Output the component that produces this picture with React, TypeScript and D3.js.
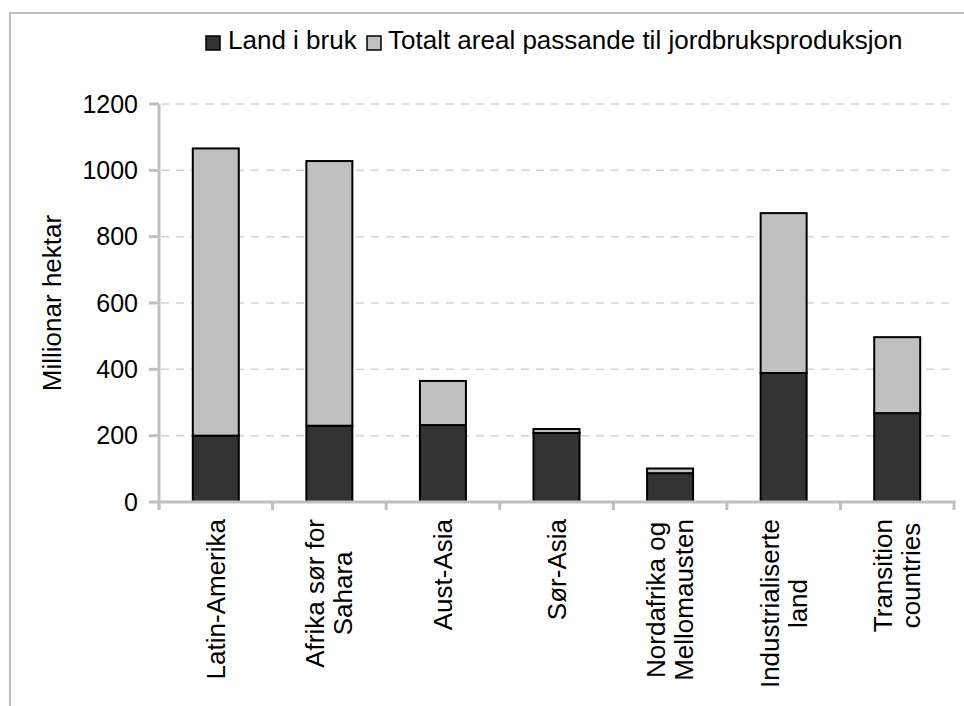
import React, { useEffect, useRef } from 'react';
import * as d3 from 'd3';

const categories = [
  'Latin-Amerika',
  'Afrika sør for\nSahara',
  'Aust-Asia',
  'Sør-Asia',
  'Nordafrika og\nMellomausten',
  'Industrialiserte\nland',
  'Transition\ncountries',
];
const landInUse = [200, 230, 232, 208, 87, 389, 268];
const totalSuitable = [1066, 1028, 365, 220, 101, 871, 497];
const yTicks = [0, 200, 400, 600, 800, 1000, 1200];
const seriesNames = ['Land i bruk', 'Totalt areal passande til jordbruksproduksjon'];
const yTitle = 'Millionar hektar';

const FONT = '"Liberation Sans", Arial, sans-serif';
const W = 964;
const H = 706;

export default function App() {
  const ref = useRef<SVGSVGElement | null>(null);

  useEffect(() => {
    const svg = d3.select(ref.current);
    svg.selectAll('*').remove();

    const x0 = 159, x1 = 954, yTop = 104, yBottom = 502;
    const x = d3.scaleBand<string>().domain(categories).range([x0, x1]).padding(0);
    const y = d3.scaleLinear().domain([0, 1200]).range([yBottom, yTop]);
    const barW = x.bandwidth() * 0.405;

    // outer frame
    svg.append('rect')
      .attr('x', 10).attr('y', 13).attr('width', 1000).attr('height', 800)
      .attr('fill', 'none').attr('stroke', '#c0c0c0').attr('stroke-width', 2);

    // gridlines
    svg.append('g').selectAll('line').data(yTicks.filter(d => d > 0)).join('line')
      .attr('x1', x0 + 2).attr('x2', x1)
      .attr('y1', d => y(d)).attr('y2', d => y(d))
      .attr('stroke', '#d4d4d4').attr('stroke-width', 1.5)
      .attr('stroke-dasharray', '8,7');

    // y ticks + labels
    const gy = svg.append('g');
    gy.selectAll('line').data(yTicks).join('line')
      .attr('x1', 149).attr('x2', x0)
      .attr('y1', d => y(d)).attr('y2', d => y(d))
      .attr('stroke', '#c0c0c0').attr('stroke-width', 3);
    gy.selectAll('text').data(yTicks).join('text')
      .attr('x', 138).attr('y', d => y(d)).attr('dy', '0.35em')
      .attr('text-anchor', 'end')
      .attr('font-family', FONT).attr('font-size', 25).attr('fill', '#000')
      .text(d => String(d));

    // y title
    svg.append('text')
      .attr('transform', `translate(61,303) rotate(-90)`)
      .attr('text-anchor', 'middle')
      .attr('font-family', FONT).attr('font-size', 26).attr('fill', '#000')
      .text(yTitle);

    // stacked bars
    const rows = categories.map((c, i) => ({ cat: c, land: landInUse[i], rest: totalSuitable[i] - landInUse[i] }));
    const stack = d3.stack<any>().keys(['land', 'rest'])(rows);
    const fills = ['#333333', '#c0c0c0'];
    stack.forEach((layer, li) => {
      svg.append('g').selectAll('rect').data(layer).join('rect')
        .attr('x', (d: any) => (x(d.data.cat) as number) + x.bandwidth() / 2 - barW / 2)
        .attr('width', barW)
        .attr('y', (d: any) => y(d[1]))
        .attr('height', (d: any) => y(d[0]) - y(d[1]))
        .attr('fill', fills[li])
        .attr('stroke', '#000').attr('stroke-width', 2);
    });

    // axes lines
    svg.append('line').attr('x1', x0).attr('x2', x0).attr('y1', yTop).attr('y2', yBottom + 8)
      .attr('stroke', '#c0c0c0').attr('stroke-width', 3);
    svg.append('line').attr('x1', x0 - 1.5).attr('x2', x1 + 1.5).attr('y1', yBottom).attr('y2', yBottom)
      .attr('stroke', '#c0c0c0').attr('stroke-width', 3);
    const bounds = categories.map(c => x(c) as number).concat([x1]);
    svg.append('g').selectAll('line').data(bounds).join('line')
      .attr('x1', d => d).attr('x2', d => d)
      .attr('y1', yBottom).attr('y2', yBottom + 8)
      .attr('stroke', '#c0c0c0').attr('stroke-width', 3);

    // category labels
    const lineH = 28;
    categories.forEach(c => {
      const lines = c.split('\n');
      const g = svg.append('g');
      const texts = lines.map((ln, i) => {
        const cx = (x(c) as number) + x.bandwidth() / 2 + (i - (lines.length - 1) / 2) * lineH;
        return g.append('text')
          .attr('font-family', FONT).attr('font-size', 26).attr('fill', '#000')
          .attr('text-anchor', 'middle')
          .attr('data-cx', cx)
          .text(ln);
      });
      const maxLen = d3.max(texts, t => (t.node() as SVGTextElement).getComputedTextLength()) || 0;
      const midY = yBottom + 17 + maxLen / 2;
      texts.forEach(t => {
        const cx = +t.attr('data-cx');
        t.attr('transform', `translate(${cx + 9},${midY}) rotate(-90)`);
      });
    });

    // legend
    const leg = svg.append('g');
    const legItems = [
      { sx: 206, tx: 228, fill: fills[0], name: seriesNames[0] },
      { sx: 367, tx: 388, fill: fills[1], name: seriesNames[1] },
    ];
    legItems.forEach(it => {
      leg.append('rect').attr('x', it.sx).attr('y', 36).attr('width', 14).attr('height', 14)
        .attr('fill', it.fill).attr('stroke', '#000').attr('stroke-width', 1.5);
      leg.append('text').attr('x', it.tx).attr('y', 48.5)
        .attr('font-family', FONT).attr('font-size', 26).attr('fill', '#000')
        .text(it.name);
    });
  }, []);

  return (
    <svg
      ref={ref}
      width={W}
      height={H}
      style={{ position: 'absolute', left: 0, top: 0, background: '#fff' }}
    />
  );
}
